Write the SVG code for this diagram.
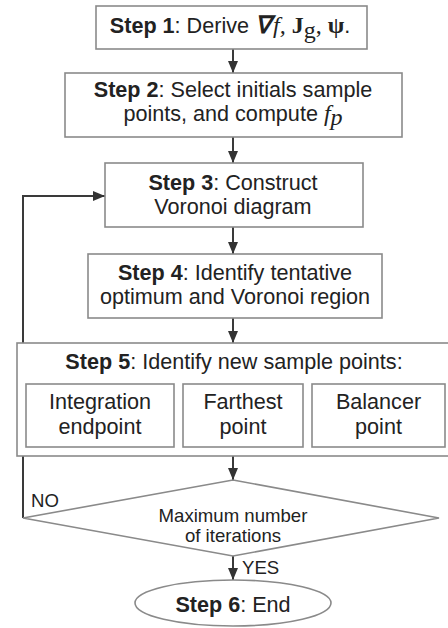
<svg xmlns="http://www.w3.org/2000/svg" width="448" height="628" viewBox="0 0 448 628">
  <defs>
    <marker id="arrow" viewBox="0 0 12 10" refX="12" refY="5" markerWidth="12" markerHeight="10" markerUnits="userSpaceOnUse" orient="auto">
      <path d="M0,0 L12,5 L0,10 Z" fill="#333"/>
    </marker>
  </defs>
  <style>
    .box { fill: #fff; stroke: #8a8a8a; stroke-width: 1.6; }
    .edge { fill: none; stroke: #3a3a3a; stroke-width: 2; marker-end: url(#arrow); }
    text { font-family: "Liberation Sans", Arial, sans-serif; fill: #222; }
    .t { font-size: 21.6px; text-anchor: middle; }
    .s { font-size: 18.6px; }
    .b { font-weight: bold; }
    .m { font-family: "Liberation Serif", "Times New Roman", serif; font-size: 24px; }
  </style>

  <rect width="448" height="628" fill="#fff"/>

  <!-- connectors -->
  <g id="connectors">
    <line class="edge" x1="233" y1="49" x2="233" y2="73"/>
    <line class="edge" x1="233" y1="137" x2="233" y2="163"/>
    <line class="edge" x1="233" y1="227" x2="233" y2="254"/>
    <line class="edge" x1="233" y1="318" x2="233" y2="343"/>
    <line class="edge" x1="233" y1="456" x2="233" y2="480"/>
    <line class="edge" x1="233" y1="556" x2="233" y2="580"/>
    <!-- loop back from the decision to step 3 -->
    <polyline class="edge" points="23,518 23,196 105,196"/>
  </g>

  <g id="step1">
    <rect class="box" x="96" y="6" width="271" height="43"/>
    <text class="t" x="230" y="33"><tspan class="b">Step 1</tspan>: Derive <tspan class="m b" font-style="italic">∇</tspan><tspan class="m" font-style="italic" dx="2">f, </tspan><tspan class="m b">J</tspan><tspan class="m" font-size="16px" dy="5">g</tspan><tspan class="m" dy="-5">, </tspan><tspan class="m b">ψ</tspan>.</text>
  </g>

  <g id="step2">
    <rect class="box" x="65" y="73" width="337" height="64"/>
    <text class="t" x="233" y="97"><tspan class="b">Step 2</tspan>: Select initials sample</text>
    <text class="t" x="233" y="121">points, and compute <tspan class="m" font-style="italic">f</tspan><tspan class="m" font-style="italic" font-size="17px" dy="4">p</tspan></text>
  </g>

  <g id="step3">
    <rect class="box" x="105" y="163" width="258" height="64"/>
    <text class="t" x="233" y="189.5"><tspan class="b">Step 3</tspan>: Construct</text>
    <text class="t" x="233" y="213.5">Voronoi diagram</text>
  </g>

  <g id="step4">
    <rect class="box" x="88" y="254" width="294" height="64"/>
    <text class="t" x="235" y="279.5"><tspan class="b">Step 4</tspan>: Identify tentative</text>
    <text class="t" x="235" y="303.5">optimum and Voronoi region</text>
  </g>

  <g id="step5">
    <rect class="box" x="17" y="343" width="440" height="113"/>
    <text class="t" x="234" y="368.5"><tspan class="b">Step 5</tspan>: Identify new sample points:</text>
    <g id="integration-endpoint">
      <rect class="box" x="26" y="384" width="148" height="63"/>
      <text class="t" x="100" y="408.5">Integration</text>
      <text class="t" x="100" y="433.5">endpoint</text>
    </g>
    <g id="farthest-point">
      <rect class="box" x="183" y="384" width="120" height="63"/>
      <text class="t" x="243" y="408.5">Farthest</text>
      <text class="t" x="243" y="433.5">point</text>
    </g>
    <g id="balancer-point">
      <rect class="box" x="312" y="384" width="133" height="63"/>
      <text class="t" x="378.5" y="408.5">Balancer</text>
      <text class="t" x="378.5" y="433.5">point</text>
    </g>
  </g>

  <g id="decision">
    <polygon class="box" points="233,480 439,518 233,556 23,518"/>
    <text class="s" x="233" y="521.5" text-anchor="middle">Maximum number</text>
    <text class="s" x="233" y="541.5" text-anchor="middle">of iterations</text>
    <text class="s" x="31" y="506.5">NO</text>
    <text class="s" x="242" y="574">YES</text>
  </g>

  <g id="step6">
    <ellipse class="box" cx="233" cy="603" rx="98" ry="23"/>
    <text class="t" x="233" y="611.5"><tspan class="b">Step 6</tspan>: End</text>
  </g>
</svg>
